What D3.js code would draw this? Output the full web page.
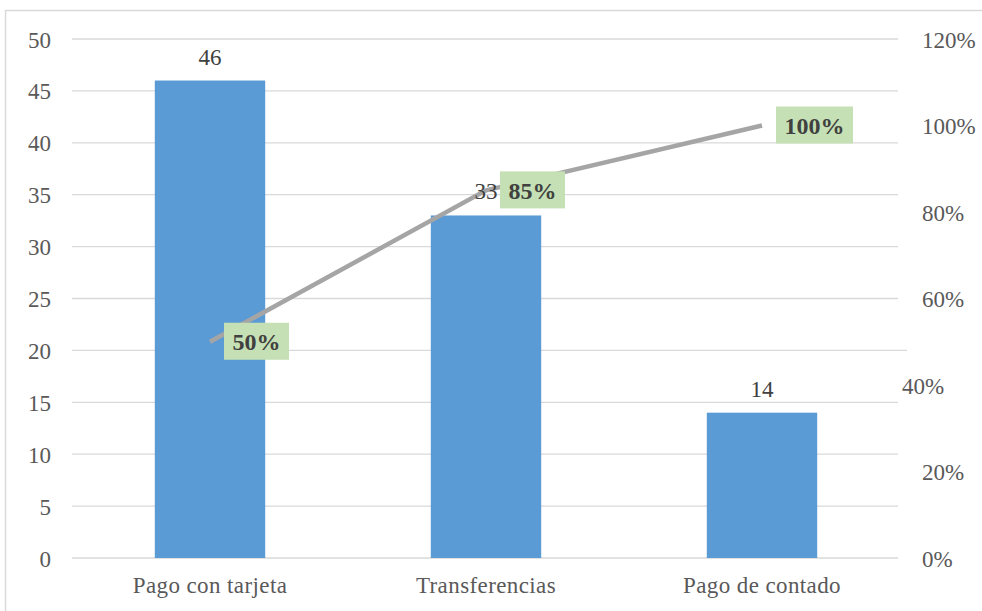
<!DOCTYPE html>
<meta charset="utf-8">
<style>
body { margin: 0; background: #fff; }
svg { display: block; font-family: "Liberation Serif", "Times New Roman", serif; }
.grid line { stroke: #d9d9d9; stroke-width: 1.3; }
.axis text { fill: #595959; font-size: 23px; font-family: "Liberation Serif", "Times New Roman", serif; }
.axis path, .axis line { display: none; }
</style>
<svg width="982" height="611"></svg>
<script src="https://cdn.jsdelivr.net/npm/d3@7"></script>
<script>

var categorias = ["Pago con tarjeta", "Transferencias", "Pago de contado"];
var frecuencias = [46, 33, 14];
var acumulado = [0.50, 0.85, 1.00];
var ticksIzq = [0, 5, 10, 15, 20, 25, 30, 35, 40, 45, 50];
var ticksDer = [0, 0.2, 0.4, 0.6, 0.8, 1.0, 1.2];

var svg = d3.select("svg");

// marco del grafico
svg.append("rect")
    .attr("x", 5.5).attr("y", 10.5)
    .attr("width", 990).attr("height", 620)
    .attr("fill", "none")
    .attr("stroke", "#d9d9d9")
    .attr("stroke-width", 1.5);

var x = d3.scaleBand().domain(categorias).range([72, 900]).paddingInner(0.6).paddingOuter(0.3);
var xc = d3.scaleBand().domain(categorias).range([72, 900]);
var y = d3.scaleLinear().domain([0, 50]).range([558, 39]);
var y2 = d3.scaleLinear().domain([0, 1.2]).range([558, 39]);

// lineas de la grilla
svg.append("g").attr("class", "grid")
  .selectAll("line").data(ticksIzq).enter().append("line")
    .attr("x1", 72).attr("x2", d => d === 20 ? 907 : 898)
    .attr("y1", d => y(d)).attr("y2", d => y(d));

// ejes
svg.append("g").attr("class", "axis")
    .attr("transform", "translate(51,0)")
    .call(d3.axisLeft(y).tickValues(ticksIzq).tickSize(0).tickPadding(0))
    .attr("font-family", null).attr("font-size", null)
  .selectAll("text").attr("dy", "0.35em");

var ejeDer = svg.append("g").attr("class", "axis")
    .attr("transform", "translate(922,0)")
    .call(d3.axisRight(y2).tickValues(ticksDer).tickSize(0).tickPadding(0).tickFormat(d3.format(".0%")))
    .attr("font-family", null).attr("font-size", null);
ejeDer.selectAll("text").attr("dy", "0.35em");
// la etiqueta 40% aparece corrida a la izquierda en el original
ejeDer.selectAll(".tick").filter(d => Math.abs(d - 0.4) < 1e-9)
    .select("text").attr("x", -20);

svg.append("g").attr("class", "axis")
    .attr("transform", "translate(0,558)")
    .call(d3.axisBottom(xc).tickSize(0))
    .attr("font-family", null).attr("font-size", null)
  .selectAll("text").attr("y", 35).attr("dy", 0).attr("letter-spacing", "0.4px");

// barras
svg.append("g").selectAll("rect")
  .data(frecuencias).enter().append("rect")
    .attr("x", (d, i) => x(categorias[i]))
    .attr("width", x.bandwidth())
    .attr("y", d => y(d))
    .attr("height", d => y(0) - y(d))
    .attr("fill", "#5b9bd5");

// linea acumulada
var linea = d3.line()
    .x((d, i) => xc(categorias[i]) + xc.bandwidth() / 2)
    .y(d => y2(d));

svg.append("path")
    .datum(acumulado)
    .attr("d", linea)
    .attr("fill", "none")
    .attr("stroke", "#a5a5a5")
    .attr("stroke-width", 4.5);

// etiquetas de barras
svg.append("g").selectAll("text")
  .data(frecuencias).enter().append("text")
    .attr("x", (d, i) => xc(categorias[i]) + xc.bandwidth() / 2)
    .attr("y", d => y(d) - 16)
    .attr("text-anchor", "middle")
    .attr("fill", "#404040")
    .attr("font-size", 23)
    .text(d => d);

// etiquetas de porcentaje
var etiquetas = svg.append("g").selectAll("g")
  .data(acumulado).enter().append("g")
    .attr("transform", (d, i) => "translate(" + (xc(categorias[i]) + xc.bandwidth() / 2 + 14) + "," + y2(d) + ")");

etiquetas.append("rect")
    .attr("x", 0)
    .attr("y", -19)
    .attr("width", d => d >= 1 ? 77 : 65)
    .attr("height", 37)
    .attr("fill", "#c5e0b4");

etiquetas.append("text")
    .attr("x", d => d >= 1 ? 38.5 : 32.5)
    .attr("y", 0)
    .attr("dy", "0.35em")
    .attr("text-anchor", "middle")
    .attr("font-size", 24)
    .attr("font-weight", "bold")
    .attr("fill", "#404040")
    .text(d => d3.format(".0%")(d));

</script>
